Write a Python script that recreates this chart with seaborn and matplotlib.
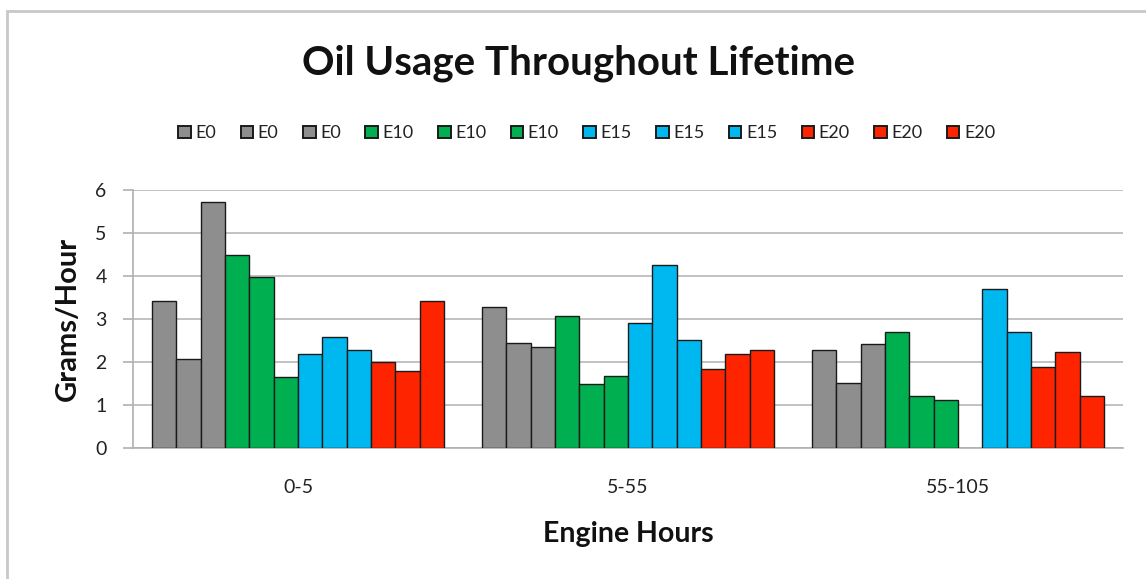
import numpy as np
import pandas as pd
import matplotlib
matplotlib.use("Agg")
import matplotlib.pyplot as plt
from matplotlib.patches import Patch, Rectangle
import seaborn as sns

# Engine-hour intervals (x categories)
intervals = ["0-5", "5-55", "55-105"]

# Twelve engines: three per fuel blend
series_labels = ["E0", "E0", "E0", "E10", "E10", "E10",
                 "E15", "E15", "E15", "E20", "E20", "E20"]

# Oil usage (grams/hour) per engine, one list per interval
oil_0_5 = [3.41, 2.07, 5.72, 4.48, 3.97, 1.66, 2.18, 2.57, 2.28, 2.00, 1.78, 3.41]
oil_5_55 = [3.29, 2.45, 2.35, 3.08, 1.50, 1.67, 2.91, 4.26, 2.51, 1.83, 2.18, 2.28]
oil_55_105 = [2.28, 1.52, 2.42, 2.69, 1.22, 1.11, np.nan, 3.70, 2.69, 1.89, 2.24, 1.21]

blend_colors = {"E0": "#8e8e8e", "E10": "#00b050", "E15": "#00b8f0", "E20": "#ff2400"}

series_ids = [f"{lab}_{i}" for i, lab in enumerate(series_labels)]
palette = {sid: blend_colors[lab] for sid, lab in zip(series_ids, series_labels)}

rows = []
for interval, vals in zip(intervals, [oil_0_5, oil_5_55, oil_55_105]):
    for sid, v in zip(series_ids, vals):
        rows.append({"Engine Hours": interval, "Engine": sid, "Grams/Hour": v})
df = pd.DataFrame(rows)

sns.set_theme(style="white")
plt.rcParams["font.family"] = ["Lato", "DejaVu Sans"]

fig = plt.figure(figsize=(11.46, 5.79), dpi=100)
ax = fig.add_axes([133 / 1146, 1 - 448 / 579, 990 / 1146, 258 / 579])

sns.barplot(data=df, x="Engine Hours", y="Grams/Hour", hue="Engine",
            order=intervals, hue_order=series_ids, palette=palette,
            width=0.886, edgecolor="#1a1a1a", linewidth=1.0,
            saturation=1, errorbar=None, legend=False, ax=ax, zorder=3)

ax.set_xlim(-0.5, len(intervals) - 0.5)
ax.set_ylim(0, 6)
ax.set_yticks(range(0, 7))
ax.yaxis.grid(True, color="#b8b8b8", linewidth=1.2, zorder=0)
ax.set_axisbelow(True)

for side in ["top", "right"]:
    ax.spines[side].set_visible(False)
for side in ["left", "bottom"]:
    ax.spines[side].set_color("#b0b0b0")
    ax.spines[side].set_linewidth(1.2)

# Group boundary ticks below the x axis
ax.set_xticks(np.arange(-0.5, len(intervals)), minor=True)
ax.tick_params(axis="x", which="minor", length=7, width=1.2, color="#b0b0b0", direction="out")
ax.tick_params(axis="x", which="major", length=0, pad=22, labelsize=14, labelcolor="#222222")
ax.tick_params(axis="y", which="major", length=7, width=1.2, color="#b0b0b0", direction="out",
               pad=12, labelsize=14, labelcolor="#222222", left=True)

ax.set_xlabel("Engine Hours", fontsize=20.5, fontweight="bold", labelpad=18, color="#111111")
ax.set_ylabel("Grams/Hour", fontsize=21, fontweight="bold", labelpad=10, color="#111111")

fig.text(0.505, 0.891, "Oil Usage Throughout Lifetime", ha="center", va="center",
         fontsize=29, fontweight="bold", color="#111111")

handles = [Patch(facecolor=palette[sid], edgecolor="#1a1a1a", linewidth=1.4)
           for sid in series_ids]
fig.legend(handles, series_labels, loc="center", bbox_to_anchor=(0.512, 0.770),
           ncol=12, frameon=False, fontsize=13, handlelength=0.7, handleheight=0.7,
           handletextpad=0.25, columnspacing=1.35, labelcolor="#222222")

# Thin chart-area frame
fig.patches.append(Rectangle((7 / 1146, -0.05), 1.1, 1 - 11 / 579 + 0.05,
                             transform=fig.transFigure, fill=False,
                             edgecolor="#c8c8c8", linewidth=2))

fig.savefig("out.png", dpi=100)
